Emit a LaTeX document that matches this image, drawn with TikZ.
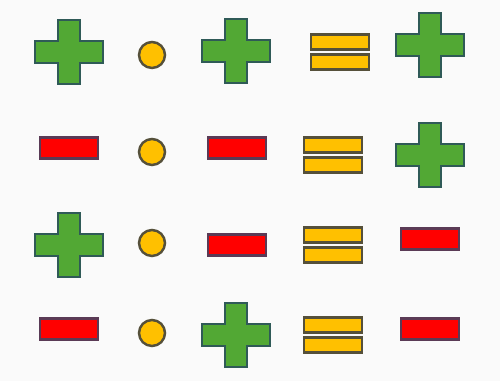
\documentclass[tikz,border=0pt]{standalone}
\usepackage{xcolor}
\usepackage{tikz}
\usetikzlibrary{
  positioning,
}
\definecolor{pagebg}{HTML}{FAFAFA}
\definecolor{plusfill}{HTML}{52A834}
\definecolor{plusline}{HTML}{2F5A57}
\definecolor{minusfill}{HTML}{FF0000}
\definecolor{minusline}{HTML}{5A3A55}
\definecolor{gold}{HTML}{FFC000}
\definecolor{goldline}{HTML}{55503A}
\tikzset{
  outline/.style={line width=1.4pt, line join=miter},
  pics/plussign/.style={
    code={
      \draw[outline, draw=plusline, fill=plusfill]
        (-11,-32) -- (11,-32) -- (11,-11) -- (34,-11) -- (34,11)
        -- (11,11) -- (11,32) -- (-11,32) -- (-11,11) -- (-34,11)
        -- (-34,-11) -- (-11,-11) -- cycle;
    }
  },
  pics/minussign/.style={
    code={
      \draw[outline, draw=minusline, fill=minusfill] (-29,-10.5) rectangle (29,10.5);
    }
  },
  pics/dotsign/.style={
    code={
      \draw[outline, draw=goldline, fill=gold] (0,0) circle (13);
    }
  },
  pics/equalsign/.style={
    code={
      \draw[outline, draw=goldline, fill=gold] (-29,-17.5) rectangle (29,-2.5);
      \draw[outline, draw=goldline, fill=gold] (-29,2.5) rectangle (29,17.5);
    }
  },
}

\begin{document}
\begin{tikzpicture}[x=0.02cm,y=-0.02cm]
  \fill[pagebg] (0,0) rectangle (500,381);

  % Row 1: plus . plus = plus
  \pic (r1a) at (69,52) {plussign};
  \pic (r1b) at (152,55) {dotsign};
  \pic (r1c) at (236,51) {plussign};
  \pic (r1d) at (340,52) {equalsign};
  \pic (r1e) at (430,45) {plussign};

  % Row 2: minus . minus = plus
  \pic (r2a) at (69,148) {minussign};
  \pic (r2b) at (152,152) {dotsign};
  \pic (r2c) at (237,148) {minussign};
  \pic (r2d) at (333,155) {equalsign};
  \pic (r2e) at (430,155) {plussign};

  % Row 3: plus . minus = minus
  \pic (r3a) at (69,245) {plussign};
  \pic (r3b) at (152,243) {dotsign};
  \pic (r3c) at (237,245) {minussign};
  \pic (r3d) at (333,245) {equalsign};
  \pic (r3e) at (430,239) {minussign};

  % Row 4: minus . plus = minus
  \pic (r4a) at (69,329) {minussign};
  \pic (r4b) at (152,333) {dotsign};
  \pic (r4c) at (236,335) {plussign};
  \pic (r4d) at (333,335) {equalsign};
  \pic (r4e) at (430,329) {minussign};
\end{tikzpicture}
\end{document}
